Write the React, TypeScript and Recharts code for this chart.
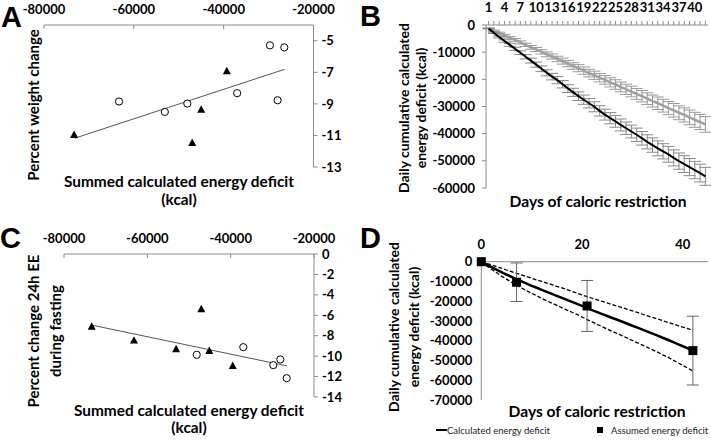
import React from 'react';
import {
  ScatterChart, Scatter, XAxis, YAxis, ReferenceLine,
  LineChart, Line, ErrorBar, ComposedChart,
} from 'recharts';

const FONT = 'Lato, "Open Sans", sans-serif';
const AXIS_GRAY = '#8a8a8a';

// ---------- Panel A ----------
const A_OPEN_X = [-63300, -53100, -48100, -37000, -29700, -26500, -28000];
const A_OPEN_Y = [-8.85, -9.51, -8.98, -8.32, -5.29, -5.42, -8.77];
const A_TRI_X = [-73300, -39300, -45000, -47000];
const A_TRI_Y = [-10.98, -6.94, -9.38, -11.49];
const A_TREND_X = [-73100, -26450];
const A_TREND_Y = [-11.17, -6.81];
const A_Y_TICKS = [-13, -11, -9, -7, -5];

// ---------- Panel C ----------
const C_OPEN_X = [-48150, -36970, -29770, -28090, -26550];
const C_OPEN_Y = [-9.87, -9.12, -10.88, -10.32, -12.16];
const C_TRI_X = [-73350, -63200, -53100, -47050, -45130, -39500];
const C_TRI_Y = [-7.13, -8.5, -9.34, -5.42, -9.51, -10.98];
const C_TREND_X = [-73350, -26550];
const C_TREND_Y = [-6.96, -10.95];
const C_Y_TICKS = [-14, -12, -10, -8, -6, -4, -2, 0];

const DEFICIT_X_TICKS = [-80000, -60000, -40000, -20000];

// ---------- Panel B ----------
const B_DAYS = [
  '1', '2', '3', '4', '5', '6', '7', '8', '9', '10', '11', '12', '13', '14',
  '15', '16', '17', '18', '19', '20', '21', '22', '23', '24', '25', '26', '27', '28',
  '29', '30', '31', '32', '33', '34', '35', '36', '37', '38', '39', '40', '41', '42',
];
const B_BLACK = [
  -1300, -2900, -4400, -5900, -7300, -8800, -10200, -11700, -13100, -14600,
  -16100, -17600, -19000, -20300, -21800, -23400, -24800, -26200, -27500, -28800,
  -30100, -31600, -33000, -34300, -35500, -36800, -38000, -39200, -40400, -41700,
  -43000, -44200, -45400, -46500, -47600, -48900, -50100, -51200, -52300, -53400,
  -54500, -55700,
];
const B_BLACK_SD = [
  100, 250, 350, 450, 550, 600, 700, 800, 900, 950,
  1050, 1100, 1200, 1300, 1350, 1450, 1500, 1600, 1700, 1750,
  1850, 1900, 2000, 2050, 2150, 2200, 2300, 2350, 2450, 2500,
  2600, 2650, 2750, 2800, 2900, 2950, 3000, 3100, 3150, 3200,
  3250, 3300,
];
const B_GRAY = [
  -1200, -2100, -2900, -3800, -4700, -5500, -6400, -7300, -8200, -9000,
  -9900, -10800, -11600, -12500, -13300, -14200, -15100, -15900, -16800, -17700,
  -18500, -19400, -20200, -21100, -21900, -22800, -23700, -24500, -25400, -26200,
  -27100, -28000, -28800, -29700, -30600, -31400, -32300, -33100, -34000, -34900,
  -35700, -36600,
];
const B_GRAY_SD = [
  100, 200, 250, 350, 400, 500, 550, 600, 700, 750,
  800, 900, 950, 1000, 1100, 1150, 1200, 1300, 1350, 1400,
  1500, 1550, 1600, 1700, 1750, 1800, 1900, 1950, 2000, 2100,
  2150, 2200, 2300, 2350, 2400, 2500, 2550, 2600, 2700, 2750,
  2800, 2900,
];
const B_Y_TICKS = [-60000, -50000, -40000, -30000, -20000, -10000, 0];

// ---------- Panel D ----------
const D_DAYS = [
  0, 1, 2, 3, 4, 5, 6, 7, 8, 9, 10, 11, 12, 13, 14, 15, 16, 17, 18, 19, 20, 21,
  22, 23, 24, 25, 26, 27, 28, 29, 30, 31, 32, 33, 34, 35, 36, 37, 38, 39, 40, 41, 42,
];
const D_CALC = [
  0, -1400, -2700, -4000, -5300, -6500, -7700, -8900, -10000, -11100,
  -12200, -13200, -14300, -15300, -16300, -17300, -18300, -19300, -20300, -21300,
  -22400, -23500, -24500, -25500, -26500, -27500, -28500, -29400, -30400, -31400,
  -32400, -33400, -34400, -35400, -36400, -37400, -38500, -39500, -40600, -41700,
  -42800, -43900, -45000,
];
const D_UPPER = [
  0, -800, -1600, -2500, -3300, -4200, -5000, -5900, -6700, -7500,
  -8400, -9200, -10000, -10800, -11600, -12500, -13300, -14100, -15000, -15900,
  -16800, -17700, -18500, -19300, -20100, -20900, -21700, -22500, -23300, -24100,
  -24900, -25700, -26600, -27400, -28200, -29000, -29800, -30700, -31500, -32300,
  -33100, -33900, -34700,
];
const D_LOWER = [
  0, -2000, -3800, -5500, -7300, -8800, -10400, -11900, -13300, -14700,
  -16000, -17200, -18600, -19800, -21000, -22100, -23300, -24500, -25600, -26700,
  -28000, -29300, -30500, -31700, -32900, -34100, -35300, -36300, -37500, -38700,
  -39900, -41100, -42200, -43400, -44600, -45800, -47200, -48300, -49700, -51100,
  -52500, -53900, -55300,
];
const D_ASSUMED_DAYS = [0, 7, 21, 42];
const D_ASSUMED = [0, -10400, -22400, -45000];
const D_ASSUMED_ERR = [0, 9750, 12900, 17400];
const D_X_TICKS = [0, 20, 40];
const D_Y_TICKS = [-70000, -60000, -50000, -40000, -30000, -20000, -10000, 0];

// ---------- derived tables ----------
const aOpen = A_OPEN_X.map((x, i) => ({ x, y: A_OPEN_Y[i] }));
const aTri = A_TRI_X.map((x, i) => ({ x, y: A_TRI_Y[i] }));
const cOpen = C_OPEN_X.map((x, i) => ({ x, y: C_OPEN_Y[i] }));
const cTri = C_TRI_X.map((x, i) => ({ x, y: C_TRI_Y[i] }));
const bData = B_DAYS.map((day, i) => ({
  day, black: B_BLACK[i], blackSd: B_BLACK_SD[i], gray: B_GRAY[i], graySd: B_GRAY_SD[i],
}));
const dData = D_DAYS.map((day, i) => {
  const k = D_ASSUMED_DAYS.indexOf(day);
  return {
    day,
    calc: D_CALC[i],
    upper: D_UPPER[i],
    lower: D_LOWER[i],
    assumed: k >= 0 ? D_ASSUMED[k] : null,
    assumedErr: k >= 0 ? D_ASSUMED_ERR[k] : null,
  };
});

const TICK = { fontFamily: FONT, fontWeight: 700, fontSize: 13, fill: '#000' };

const OpenCircle = (p: any) => (
  <circle cx={p.cx} cy={p.cy} r={3.6} fill="#fff" stroke="#000" strokeWidth={1} />
);
const Triangle = (p: any) => (
  <path
    d={`M${p.cx},${p.cy - 4.6}L${p.cx + 4},${p.cy + 2.8}L${p.cx - 4},${p.cy + 2.8}Z`}
    fill="#000"
  />
);

function ScatterPanel(props: any) {
  const { left, top, width, height, margin, open, tri, trendX, trendY, yDomain, yTicks } = props;
  return (
    <div style={{ position: 'absolute', left, top }}>
      <ScatterChart width={width} height={height} margin={margin}>
        <XAxis
          type="number" dataKey="x" orientation="top" domain={[-80000, -20000]}
          ticks={DEFICIT_X_TICKS} interval={0} height={20}
          axisLine={{ stroke: AXIS_GRAY }}
          tickLine={{ stroke: AXIS_GRAY, transform: 'translate(0,4)' }}
          tickSize={4} tickMargin={7} tick={TICK}
        />
        <YAxis
          type="number" dataKey="y" orientation="right" domain={yDomain}
          ticks={yTicks} interval={0} width={40}
          axisLine={{ stroke: AXIS_GRAY }} tickLine={{ stroke: AXIS_GRAY }}
          tickSize={4} tickMargin={4} tick={{ ...TICK, textAnchor: 'start' }}
        />
        <ReferenceLine
          segment={[{ x: trendX[0], y: trendY[0] }, { x: trendX[1], y: trendY[1] }]}
          stroke="#555" strokeWidth={1}
        />
        <Scatter data={open} shape={OpenCircle} isAnimationActive={false} />
        <Scatter data={tri} shape={Triangle} isAnimationActive={false} />
      </ScatterChart>
    </div>
  );
}

const BTick = (p: any) => {
  if (p.index % 3 !== 0) return <g />;
  return (
    <text x={p.x} y={p.y} textAnchor="middle" style={TICK as any} fill="#000">
      {p.payload.value}
    </text>
  );
};

const SquareDot = (p: any) => {
  if (p.value == null || p.cy == null) return <g key={`sq-${p.index}`} />;
  return <rect key={`sq-${p.index}`} x={p.cx - 4.5} y={p.cy - 4.5} width={9} height={9} fill="#000" />;
};

const T = (p: any) => (
  <text
    x={p.x} y={p.y} textAnchor={p.anchor || 'middle'}
    transform={p.rot ? `rotate(-90, ${p.x}, ${p.y})` : undefined}
    dominantBaseline={p.rot ? 'central' : undefined}
    fontFamily={p.family || FONT} fontWeight={p.weight || 700} fontSize={p.size} fill={p.fill || '#000'}
  >
    {p.children}
  </text>
);

export default function App() {
  return (
    <div style={{ position: 'absolute', left: 0, top: 0, width: 711, height: 443, background: '#fff', overflow: 'hidden' }}>
      {/* Panel A */}
      <ScatterPanel
        left={0} top={0} width={360} height={220}
        margin={{ top: 5, right: 6.5, bottom: 53, left: 44 }}
        open={aOpen} tri={aTri} trendX={A_TREND_X} trendY={A_TREND_Y}
        yDomain={[-13, -4]} yTicks={A_Y_TICKS}
      />
      {/* Panel C */}
      <ScatterPanel
        left={0} top={220} width={360} height={223}
        margin={{ top: 14, right: 6, bottom: 46, left: 64 }}
        open={cOpen} tri={cTri} trendX={C_TREND_X} trendY={C_TREND_Y}
        yDomain={[-14, 0]} yTicks={C_Y_TICKS}
      />
      {/* Panel B */}
      <div style={{ position: 'absolute', left: 360, top: 0 }}>
        <LineChart width={351} height={220} data={bData} margin={{ top: 5, right: 3, bottom: 32, left: 66 }}>
          <XAxis
            dataKey="day" orientation="top" interval={0} height={20}
            padding={{ left: 2.6, right: 2.6 }}
            axisLine={{ stroke: AXIS_GRAY }} tickLine={{ stroke: AXIS_GRAY }}
            tickSize={4} tickMargin={9} tick={BTick}
          />
          <YAxis
            type="number" domain={[-60000, 0]} ticks={B_Y_TICKS} interval={0} width={60}
            axisLine={{ stroke: AXIS_GRAY }} tickLine={{ stroke: AXIS_GRAY }}
            tickSize={4} tickMargin={7} tick={TICK}
          />
          <Line dataKey="gray" stroke="#a0a0a0" strokeWidth={2.5} dot={false} isAnimationActive={false}>
            <ErrorBar dataKey="graySd" width={6} stroke="#9a9a9a" strokeWidth={1} direction="y" />
          </Line>
          <Line dataKey="black" stroke="#000" strokeWidth={2} dot={false} isAnimationActive={false}>
            <ErrorBar dataKey="blackSd" width={6} stroke="#8a8a8a" strokeWidth={1} direction="y" />
          </Line>
        </LineChart>
      </div>
      {/* Panel D */}
      <div style={{ position: 'absolute', left: 360, top: 220 }}>
        <ComposedChart width={351} height={223} data={dData} margin={{ top: 21.7, right: 3, bottom: 43, left: 61.3 }}>
          <XAxis
            type="number" dataKey="day" orientation="top" domain={[0, 45]} ticks={D_X_TICKS}
            interval={0} height={20}
            axisLine={{ stroke: AXIS_GRAY }} tickLine={false}
            tickSize={4} tickMargin={9} tick={TICK}
          />
          <YAxis
            type="number" domain={[-70000, 0]} ticks={D_Y_TICKS} interval={0} width={60}
            axisLine={{ stroke: AXIS_GRAY }} tickLine={false}
            tickSize={4} tickMargin={5} tick={TICK}
          />
          <Line dataKey="upper" stroke="#000" strokeWidth={1.3} strokeDasharray="4 2" dot={false} isAnimationActive={false} />
          <Line dataKey="lower" stroke="#000" strokeWidth={1.3} strokeDasharray="4 2" dot={false} isAnimationActive={false} />
          <Line dataKey="calc" stroke="#000" strokeWidth={2.5} dot={false} isAnimationActive={false} />
          <Line dataKey="assumed" stroke="none" dot={SquareDot} activeDot={false} isAnimationActive={false}>
            <ErrorBar dataKey="assumedErr" width={6} stroke="#666" strokeWidth={1} direction="y" />
          </Line>
        </ComposedChart>
      </div>

      {/* Text overlay */}
      <svg width={711} height={443} style={{ position: 'absolute', left: 0, top: 0, pointerEvents: 'none' }}>
        <T x={1} y={27} size={29} anchor="start" family='"Liberation Sans", Arial, sans-serif'>A</T>
        <T x={360} y={26} size={29} anchor="start" family='"Liberation Sans", Arial, sans-serif'>B</T>
        <T x={0} y={248} size={29} anchor="start" family='"Liberation Sans", Arial, sans-serif'>C</T>
        <T x={360} y={248} size={29} anchor="start" family='"Liberation Sans", Arial, sans-serif'>D</T>

        <T x={33} y={105} size={15} rot>Percent weight change</T>
        <T x={179} y={187} size={15.4}>Summed calculated energy deficit</T>
        <T x={179} y={205} size={15.4}>(kcal)</T>

        <T x={403} y={108} size={14} rot>Daily cumulative calculated</T>
        <T x={420} y={108} size={14} rot>energy deficit  (kcal)</T>
        <T x={598} y={207} size={15.6}>Days of caloric restriction</T>

        <T x={33} y={331} size={15} rot>Percent change 24h EE</T>
        <T x={55} y={331} size={15} rot>during fasting</T>
        <T x={189} y={416} size={15.4}>Summed calculated energy deficit</T>
        <T x={189} y={433} size={15.4}>(kcal)</T>

        <T x={393} y={327} size={14} rot>Daily cumulative calculated</T>
        <T x={413} y={327} size={14} rot>energy deficit  (kcal)</T>
        <T x={597} y={417} size={15.6}>Days of caloric restriction</T>

        <line x1={436} y1={430} x2={447} y2={430} stroke="#000" strokeWidth={2} />
        <T x={447} y={433.5} size={9.5} anchor="start" weight={400} fill="#222">Calculated energy deficit</T>
        <rect x={597} y={427} width={6} height={6} fill="#000" />
        <T x={611} y={433.5} size={9.5} anchor="start" weight={400} fill="#222">Assumed energy deficit</T>
      </svg>
    </div>
  );
}
